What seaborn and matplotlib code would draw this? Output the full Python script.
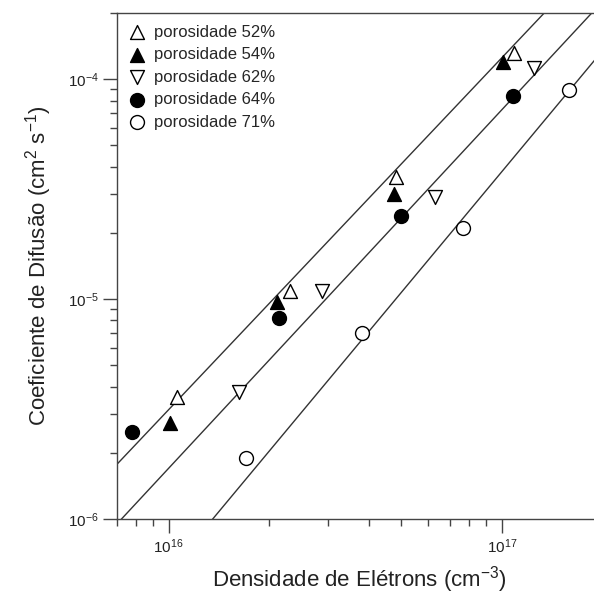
import numpy as np
import pandas as pd
import matplotlib
matplotlib.use("Agg")
import matplotlib.pyplot as plt
import matplotlib.ticker as mticker
import seaborn as sns

# Electron density (cm^-3) and diffusion coefficient (cm^2 s^-1) per porosity
n_52 = [1.06e16, 2.31e16, 4.83e16, 1.09e17]
d_52 = [3.60e-6, 1.09e-5, 3.60e-5, 1.31e-4]

n_54 = [1.01e16, 2.11e16, 4.75e16, 1.01e17]
d_54 = [2.72e-6, 9.72e-6, 3.00e-5, 1.20e-4]

n_62 = [1.63e16, 2.89e16, 6.29e16, 1.25e17]
d_62 = [3.79e-6, 1.09e-5, 2.92e-5, 1.12e-4]

n_64 = [7.78e15, 2.14e16, 5.00e16, 1.08e17]
d_64 = [2.49e-6, 8.17e-6, 2.38e-5, 8.37e-5]

n_71 = [1.71e16, 3.80e16, 7.65e16, 1.59e17]
d_71 = [1.89e-6, 7.00e-6, 2.10e-5, 8.91e-5]

labels = ["porosidade 52%", "porosidade 54%", "porosidade 62%",
          "porosidade 64%", "porosidade 71%"]

# Power-law fits D = A * (n / 1e16) ** k
fit_A = [3.14e-6, 1.70e-6, 5.74e-7]
fit_k = [1.60, 1.63, 1.82]

xlim = (7e15, 2e17)
ylim = (1e-6, 2e-4)

sns.set_theme(style="ticks")
plt.rcParams["font.family"] = ["Liberation Sans", "DejaVu Sans"]
plt.rcParams["mathtext.fontset"] = "custom"
plt.rcParams["mathtext.rm"] = "Liberation Sans"
plt.rcParams["mathtext.it"] = "Liberation Sans:italic"
plt.rcParams["mathtext.bf"] = "Liberation Sans:bold"
plt.rcParams["mathtext.default"] = "regular"

fig = plt.figure(figsize=(5.94, 6.01), dpi=100)
W, H = 594, 601
left, right, top, bottom = 117, 602, 13, 519
ax = fig.add_axes([left / W, (H - bottom) / H, (right - left) / W, (bottom - top) / H])
ax.set_xscale("log")
ax.set_yscale("log")

# fitted lines
grid = np.logspace(np.log10(xlim[0]), np.log10(xlim[1]), 50)
line_df = pd.concat(
    [pd.DataFrame({"n": grid, "D": A * (grid / 1e16) ** k, "fit": i})
     for i, (A, k) in enumerate(zip(fit_A, fit_k))],
    ignore_index=True,
)
sns.lineplot(data=line_df, x="n", y="D", units="fit", estimator=None,
             color="#333333", linewidth=1.0, legend=False, ax=ax, zorder=2)

series = [
    (n_52, d_52, "^", "white"),
    (n_54, d_54, "^", "black"),
    (n_62, d_62, "v", "white"),
    (n_64, d_64, "o", "black"),
    (n_71, d_71, "o", "white"),
]
for (nx, dy, mk, face), lab in zip(series, labels):
    sns.scatterplot(x=nx, y=dy, marker=mk, s=100, color=face,
                    edgecolor="black", linewidth=1.0, label=lab, ax=ax, zorder=3)

ax.set_xlim(*xlim)
ax.set_ylim(*ylim)

ax.xaxis.set_major_locator(mticker.FixedLocator([1e16, 1e17]))
ax.yaxis.set_major_locator(mticker.FixedLocator([1e-6, 1e-5, 1e-4]))
ax.xaxis.set_minor_locator(mticker.LogLocator(base=10, subs=np.arange(2, 10)))
ax.yaxis.set_minor_locator(mticker.LogLocator(base=10, subs=np.arange(2, 10)))
ax.xaxis.set_minor_formatter(mticker.NullFormatter())
ax.yaxis.set_minor_formatter(mticker.NullFormatter())

spine_c = "#444444"
for s in ax.spines.values():
    s.set_color(spine_c)
    s.set_linewidth(1.0)
ax.tick_params(which="major", direction="out", length=10, width=1.0,
               color=spine_c, labelsize=11, labelcolor="#222222", pad=3)
ax.tick_params(which="minor", direction="out", length=5, width=1.0, color=spine_c)

ax.set_xlabel("Densidade de Elétrons (cm$^{-3}$)", fontsize=16, color="#222222", labelpad=6)
ax.set_ylabel("Coeficiente de Difusão (cm$^{2}$ s$^{-1}$)", fontsize=16, color="#222222", labelpad=10)

ax.legend(loc="upper left", frameon=False, fontsize=12, handlelength=1.0,
          handletextpad=0.5, labelspacing=0.45, borderaxespad=0.4,
          borderpad=0.3, scatterpoints=1)

fig.savefig("out.png", dpi=100)
